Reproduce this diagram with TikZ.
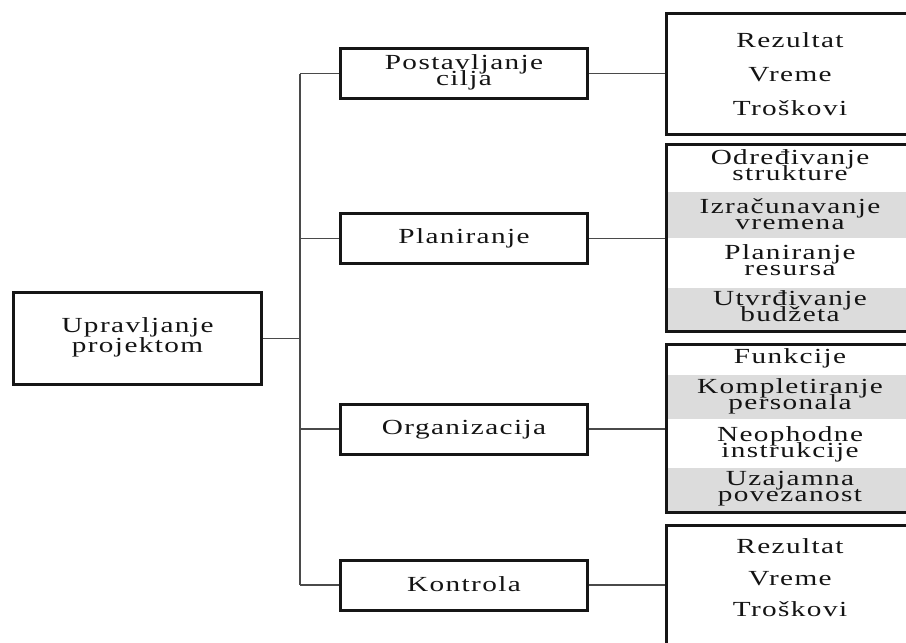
\documentclass[tikz,border=0pt]{standalone}
\usepackage{fontspec}
\setmainfont{Liberation Serif}[FakeStretch=1.36,LetterSpace=6.5]
% centred stack of lines; the baseline of the box is that of the first line
\newcommand\stk[2]{\vtop{\baselineskip=#1\lineskiplimit=-100pt\lineskip=0pt\halign{\hfil##\hfil\cr#2\crcr}}}
\definecolor{edge}{HTML}{161616}
\definecolor{wire}{HTML}{4A4A4A}
\definecolor{rowgray}{HTML}{DCDCDC}
\definecolor{ink}{HTML}{141414}
\begin{document}
\begin{tikzpicture}[x=1pt,y=-1pt,
  txt/.style={font=\fontsize{21.5pt}{21.5pt}\selectfont, text=ink, inner sep=0pt, anchor=base},
  box/.style={draw=edge, line width=3pt, inner sep=0pt},
  midbox/.style={box, minimum width=247pt, minimum height=50pt},
  listbox/.style={box, minimum width=250pt},
  link/.style={draw=wire, line width=1.2pt}]
\useasboundingbox (0,0) rectangle (906,643);
\fill[white] (0,0) rectangle (906,643);
\clip (0,0) rectangle (906,643);

% shaded rows of the two four-row lists
\fill[rowgray] (666,192) rectangle (916,238);
\fill[rowgray] (666,288) rectangle (916,333);
\fill[rowgray] (666,375) rectangle (916,419);
\fill[rowgray] (666,468) rectangle (916,514);

% root
\node[box, minimum width=248pt, minimum height=92pt] (root) at (137.5,338.5) {};
\node[txt] (rootlbl) at (137.5,332.5) {\stk{20pt}{Upravljanje\cr projektom}};

% phases
\node[midbox] (goal) at (464,73.5) {};
\node[txt] (goallbl) at (464,69.5) {\stk{16pt}{Postavljanje\cr cilja}};
\node[midbox] (plan) at (464,238.5) {};
\node[txt] (planlbl) at (464,243.5) {Planiranje};
\node[midbox] (org) at (464,429) {};
\node[txt] (orglbl) at (464,434.5) {Organizacija};
\node[midbox] (ctrl) at (464,585) {};
\node[txt] (ctrllbl) at (464,591) {Kontrola};

% lists
\node[listbox, minimum height=121pt] (r1) at (791.25,74) {};
\node[listbox, minimum height=187pt] (r2) at (791.25,238) {};
\node[listbox, minimum height=168pt] (r3) at (791.25,428.5) {};
\node[listbox, minimum height=134.5pt] (r4) at (791.25,592.75) {};

\node[txt] (r1a) at (790,47) {Rezultat};
\node[txt] (r1b) at (790,81) {Vreme};
\node[txt] (r1c) at (790,115) {Troškovi};

\node[txt] (r2a) at (790,164) {\stk{16pt}{Određivanje\cr strukture}};
\node[txt] (r2b) at (790,213) {\stk{16pt}{Izračunavanje\cr vremena}};
\node[txt] (r2c) at (790,259) {\stk{16pt}{Planiranje\cr resursa}};
\node[txt] (r2d) at (790,305) {\stk{16pt}{Utvrđivanje\cr budžeta}};

\node[txt] (r3a) at (790,363) {Funkcije};
\node[txt] (r3b) at (790,393) {\stk{16pt}{Kompletiranje\cr personala}};
\node[txt] (r3c) at (790,441) {\stk{16pt}{Neophodne\cr instrukcije}};
\node[txt] (r3d) at (790,485) {\stk{16pt}{Uzajamna\cr povezanost}};

\node[txt] (r4a) at (790,553) {Rezultat};
\node[txt] (r4b) at (790,585) {Vreme};
\node[txt] (r4c) at (790,616) {Troškovi};

% connectors
\coordinate (bus) at (300,0);
\draw[link] (root.east) -- (root.east -| bus);
\draw[link] (bus |- goal.west) -- (bus |- ctrl.west);
\foreach \n in {goal,plan,org,ctrl}
  \draw[link] (bus |- \n.west) -- (\n.west);
\draw[link] (goal.east) -- (goal.east -| r1.west);
\draw[link] (plan.east) -- (plan.east -| r2.west);
\draw[link] (org.east) -- (org.east -| r3.west);
\draw[link] (ctrl.east) -- (ctrl.east -| r4.west);
\end{tikzpicture}
\end{document}
